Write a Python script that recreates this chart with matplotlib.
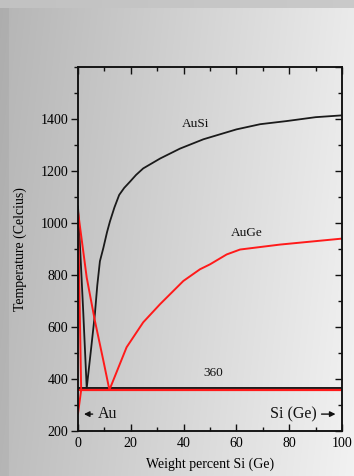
import numpy as np
import matplotlib
matplotlib.use("Agg")
import matplotlib.pyplot as plt
from matplotlib.ticker import MultipleLocator

# ---- data ----
ausi_x = [0, 1.1, 2.0, 3.3, 5.0, 6.4, 7.3, 8.3, 9.6, 11.0, 12.1, 13.8, 15.6, 17.5, 19.7, 22.0, 24.7, 31.1, 38.6, 47.5, 60, 69, 79, 90, 100]
ausi_y = [1064, 841, 655, 365, 520, 650, 760, 853, 904, 965, 1006, 1060, 1108, 1135, 1159, 1185, 1210, 1248, 1286, 1322, 1360, 1380, 1392, 1407, 1414]
auge_x = [0, 3.3, 6.4, 9.6, 11.9, 18.4, 24.7, 31.1, 39.9, 46.2, 50, 56.3, 61.4, 76.5, 100]
auge_y = [1044, 790, 624, 471, 358, 522, 618, 688, 777, 822, 841, 879, 898, 917, 940]
auge_solid_x = [0, 1.2, 0]
auge_solid_y = [1044, 358, 267]
eut_x = [0, 100]
ausi_eut = [365, 365]
auge_eut = [358, 358]

plt.rcParams['font.family'] = ['Liberation Serif', 'DejaVu Serif']

W, H = 354, 476
fig = plt.figure(figsize=(W / 100, H / 100), dpi=100)

# background gradient
bg = fig.add_axes([0, 0, 1, 1])
xx = np.linspace(0, 1, W)
yy = np.linspace(0, 1, H)
X, Y = np.meshgrid(xx, yy)
img = 0.71 + 0.21 * X + 0.03 * Y
img[:, :9] -= 0.03
img[:8, :] = 0.76 + 0.03 * X[:8, :]
rgb = np.dstack([img, img, img])
bg.imshow(rgb, aspect='auto', extent=[0, 1, 1, 0], interpolation='bilinear')
bg.set_xlim(0, 1)
bg.set_ylim(1, 0)
bg.axis('off')

ax = fig.add_axes([78 / W, 1 - 431 / H, (342 - 78) / W, (431 - 67) / H])
ax.set_facecolor('none')

ax.plot(ausi_x, ausi_y, color='#1a1a1a', lw=1.3)
ax.plot(eut_x, ausi_eut, color='#1a1a1a', lw=1.4)
ax.plot(auge_x, auge_y, color='#ff1a1a', lw=1.4)
ax.plot(auge_solid_x, auge_solid_y, color='#ff1a1a', lw=1.4)
ax.plot(eut_x, auge_eut, color='#ff1a1a', lw=1.6)

ax.set_xlim(0, 100)
ax.set_ylim(200, 1600)
ax.xaxis.set_major_locator(MultipleLocator(20))
ax.xaxis.set_minor_locator(MultipleLocator(10))
ax.set_yticks([200, 400, 600, 800, 1000, 1200, 1400])
ax.yaxis.set_minor_locator(MultipleLocator(100))

for s in ax.spines.values():
    s.set_linewidth(1.1)
    s.set_color('#111111')

ax.tick_params(axis='x', which='both', direction='in', top=True, labelsize=10, pad=4, color='#111111')
ax.tick_params(axis='x', which='major', length=5, width=1.0)
ax.tick_params(axis='x', which='minor', length=3, width=1.0)
ax.yaxis.set_ticks_position('left')
ax.tick_params(axis='y', which='both', direction='out', labelsize=10, pad=2, color='#111111')
ax.tick_params(axis='y', which='major', length=5, width=1.0)
ax.tick_params(axis='y', which='minor', length=3, width=1.0)

# right-side inward ticks
axr = ax.twinx()
axr.set_ylim(200, 1600)
axr.yaxis.set_ticks_position('right')
axr.yaxis.set_major_locator(MultipleLocator(200))
axr.yaxis.set_minor_locator(MultipleLocator(100))
axr.tick_params(axis='y', which='both', direction='in', labelright=False, color='#111111')
axr.tick_params(axis='y', which='major', length=5, width=1.0)
axr.tick_params(axis='y', which='minor', length=3, width=1.0)
axr.set_facecolor('none')
for s in axr.spines.values():
    s.set_linewidth(1.1)
    s.set_color('#111111')

ax.set_xlabel('Weight percent Si (Ge)', fontsize=10, labelpad=6)
ax.set_ylabel('Temperature (Celcius)', fontsize=10, labelpad=10)

ax.text(44.7, 1382, 'AuSi', fontsize=9.5, ha='center', va='center', color='#111111')
ax.text(63.9, 962, 'AuGe', fontsize=9.5, ha='center', va='center', color='#111111')
ax.text(51.1, 422, '360', fontsize=9.5, ha='center', va='center', color='#111111')

ax.annotate('', xy=(1.2, 265), xytext=(6.6, 265),
            arrowprops=dict(arrowstyle='-|>', color='#111111', lw=1.0, mutation_scale=8))
ax.text(7.4, 265, 'Au', fontsize=11.5, ha='left', va='center', color='#111111')
ax.text(90.6, 265, 'Si (Ge)', fontsize=11.5, ha='right', va='center', color='#111111')
ax.annotate('', xy=(98.6, 265), xytext=(91.2, 265),
            arrowprops=dict(arrowstyle='-|>', color='#111111', lw=1.0, mutation_scale=8))

fig.savefig('out.png', dpi=100)
